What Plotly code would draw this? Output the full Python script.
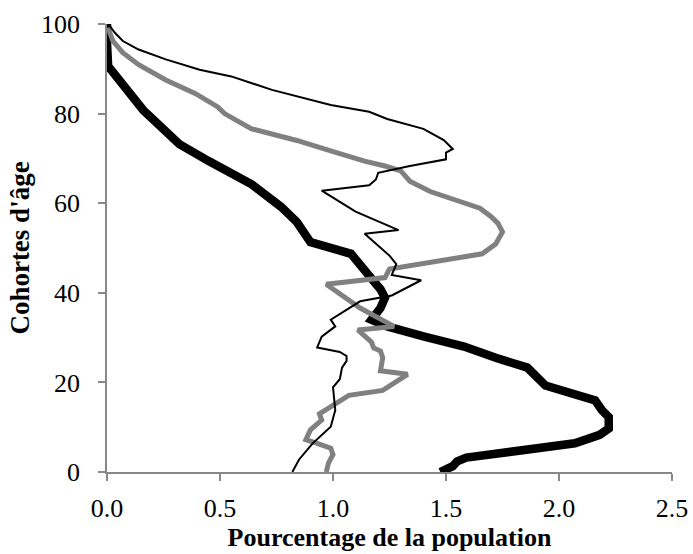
import plotly.graph_objects as go

# Thick black series
age_a = [0, 1.3, 2.4, 3.2, 6.4, 8.3, 9.7, 12.3, 13.8, 16, 19.3, 23.3, 25.5, 28, 30.3,
         32.5, 34, 36.6, 38.9, 40.8, 42.6, 44.9, 47.2, 48.7, 51.3, 54, 55.8, 59.2,
         64.2, 69.4, 73.2, 80.8, 85.3, 89.4, 90.6, 95.8, 100]
pct_a = [1.475, 1.53, 1.55, 1.59, 2.07, 2.18, 2.22, 2.22, 2.19, 2.16, 1.94, 1.86, 1.72,
         1.58, 1.40, 1.24, 1.17, 1.21, 1.23, 1.21, 1.18, 1.14, 1.10, 1.08, 0.90, 0.86,
         0.84, 0.77, 0.64, 0.45, 0.32, 0.16, 0.085, 0.026, 0.005, 0.0, 0.0]

# Gray series
age_b = [0, 2, 3.9, 5.3, 6.4, 7.2, 9.4, 11.6, 13, 15.2, 17.1, 18.2, 21.8, 22.6, 25.5,
         27, 27.7, 29, 31.7, 32.5, 36.6, 41.9, 43.4, 45.3, 48.7, 50.9, 52.8, 53.6,
         55.5, 57, 58.9, 62.6, 64.9, 67.2, 68.3, 69.4, 71.7, 74, 76.6, 80, 81.5,
         84.5, 87.5, 90.9, 93.6, 96.2, 99.2]
pct_b = [0.97, 0.98, 1.0, 0.99, 0.93, 0.88, 0.90, 0.95, 0.94, 1.01, 1.07, 1.22, 1.33,
         1.21, 1.22, 1.21, 1.18, 1.17, 1.11, 1.27, 1.12, 0.97, 1.23, 1.25, 1.66, 1.72,
         1.74, 1.75, 1.73, 1.70, 1.65, 1.43, 1.34, 1.30, 1.23, 1.14, 0.99, 0.84, 0.64,
         0.52, 0.49, 0.39, 0.26, 0.14, 0.07, 0.026, 0.004]

# Thin black series
age_c = [0, 2.8, 6.4, 10.1, 13.8, 18.9, 20.7, 23.3, 24.8, 25.9, 26.8, 27.8, 30.2,
         32.5, 34, 38.1, 39.4, 42.8, 44, 46.4, 48.3, 53.2, 54, 58.1, 62.8, 64,
         65.3, 66.8, 68.3, 69.8, 71.3, 72.1, 74.1, 76.6, 78.8, 80.4, 81.9, 83.8,
         85.3, 88.3, 89.8, 92.1, 94.3, 96.2, 98.1, 99.6]
pct_c = [0.82, 0.85, 0.91, 0.99, 1.01, 1.00, 1.03, 1.04, 1.06, 1.06, 1.03, 0.93, 0.95,
         1.01, 0.99, 1.12, 1.26, 1.39, 1.26, 1.28, 1.25, 1.14, 1.29, 1.10, 0.95, 1.16,
         1.19, 1.20, 1.34, 1.50, 1.50, 1.53, 1.49, 1.40, 1.24, 1.16, 0.99, 0.85, 0.73,
         0.55, 0.41, 0.26, 0.14, 0.07, 0.034, 0.012]

x_ticks = [0.0, 0.5, 1.0, 1.5, 2.0, 2.5]
y_ticks = [0, 20, 40, 60, 80, 100]

fig = go.Figure()
fig.add_trace(go.Scatter(x=pct_a, y=age_a, mode="lines",
                         line=dict(color="black", width=8.5), showlegend=False))
fig.add_trace(go.Scatter(x=pct_b, y=age_b, mode="lines",
                         line=dict(color="#808080", width=5), showlegend=False))
fig.add_trace(go.Scatter(x=pct_c, y=age_c, mode="lines",
                         line=dict(color="black", width=2), showlegend=False))

font_family = "Liberation Serif, Times New Roman, serif"
axis_common = dict(showgrid=False, zeroline=False, showline=True,
                   linecolor="#888888", linewidth=1.5, ticks="outside",
                   tickcolor="#888888", ticklen=7, tickwidth=1.5,
                   automargin=False, tickfont=dict(size=26))
fig.update_layout(
    width=693, height=554,
    margin=dict(l=107, r=21, t=24, b=82),
    plot_bgcolor="white", paper_bgcolor="white",
    font=dict(family=font_family, size=20, color="black"),
    xaxis=dict(range=[0, 2.5], tickvals=x_ticks, tickformat=".1f",
               ticklabelstandoff=5,
               title=dict(text="<b>Pourcentage de la population</b>",
                          font=dict(size=26), standoff=6),
               **axis_common),
    yaxis=dict(range=[0, 100], tickvals=y_ticks, ticklabelstandoff=13,
               title=dict(text="<b>Cohortes d'âge</b>",
                          font=dict(size=27), standoff=4),
               **axis_common),
)

fig.write_html("out.html", config={"displayModeBar": False},
               post_script="document.body.style.margin='0';document.body.style.padding='0';")
